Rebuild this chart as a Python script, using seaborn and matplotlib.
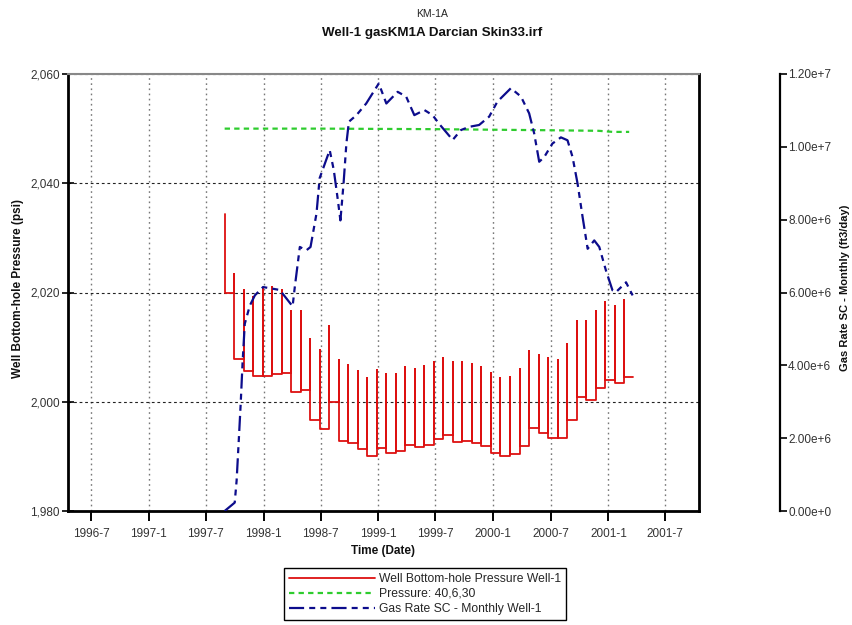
import numpy as np
import pandas as pd
import matplotlib
matplotlib.use("Agg")
import matplotlib.pyplot as plt
from matplotlib.ticker import FuncFormatter
import seaborn as sns

# ---------------- data ----------------
title_top = "KM-1A"
title_main = "Well-1 gasKM1A Darcian Skin33.irf"

tick_dates = ["1996-07-01", "1997-01-01", "1997-07-01", "1998-01-01", "1998-07-01",
              "1999-01-01", "1999-07-01", "2000-01-01", "2000-07-01", "2001-01-01",
              "2001-07-01"]
tick_labels = ["1996-7", "1997-1", "1997-7", "1998-1", "1998-7", "1999-1",
               "1999-7", "2000-1", "2000-7", "2001-1", "2001-7"]

# Well bottom-hole pressure (psi): monthly spike (high) and settled value (low)
bhp_first_date = "1997-08-30"
bhp_last_date = "2001-02-20"
bhp_end_date = "2001-03-20"
bhp_high = [2034.3, 2023.4, 2020.4, 2019.1, 2020.9, 2021.0, 2020.4, 2016.6, 2016.7, 2011.4,
            2009.5, 2013.8, 2007.7, 2006.7, 2005.6, 2004.3, 2005.9, 2005.1, 2005.1, 2006.3,
            2006.0, 2006.5, 2007.2, 2008.1, 2007.2, 2007.2, 2006.9, 2006.3, 2005.2, 2004.3,
            2004.6, 2006.0, 2009.2, 2008.6, 2008.0, 2007.7, 2010.6, 2014.7, 2014.7, 2016.6,
            2018.2, 2017.6, 2018.7]
bhp_low = [2019.9, 2007.8, 2005.7, 2004.8, 2004.8, 2005.0, 2005.3, 2001.7, 2002.2, 1996.6,
           1995.0, 1999.9, 1992.8, 1992.4, 1991.3, 1990.1, 1991.6, 1990.7, 1990.9, 1992.1,
           1991.8, 1992.1, 1993.2, 1993.9, 1992.7, 1992.8, 1992.5, 1991.9, 1990.7, 1990.0,
           1990.4, 1991.9, 1995.2, 1994.3, 1993.3, 1993.3, 1996.6, 2000.9, 2000.4, 2002.5,
           2004.0, 2003.4, 2004.5]

# Pressure: 40,6,30
ref_dates = ["1997-08-30", "1998-07-01", "1999-07-01", "2000-07-01", "2000-12-01",
             "2001-01-15", "2001-03-08"]
ref_pressure = [2050.0, 2050.0, 2049.9, 2049.7, 2049.6, 2049.4, 2049.4]

# Gas rate SC - monthly (million ft3/day)
gas_dates = ["1997-08-30", "1997-10-01", "1997-10-07", "1997-10-15", "1997-10-20",
             "1997-10-26", "1997-11-02", "1997-11-18", "1997-12-04", "1997-12-30",
             "1998-02-21", "1998-03-15", "1998-04-03", "1998-04-10", "1998-04-26",
             "1998-05-17", "1998-05-30", "1998-06-18", "1998-06-28", "1998-07-30",
             "1998-08-12", "1998-08-25", "1998-09-02", "1998-09-12", "1998-09-21",
             "1998-09-29", "1998-10-23", "1998-11-23", "1999-01-02", "1999-01-26",
             "1999-03-03", "1999-03-30", "1999-04-25", "1999-05-27", "1999-06-22",
             "1999-07-14", "1999-08-25", "1999-09-20", "1999-10-17", "1999-11-17",
             "1999-12-19", "2000-01-14", "2000-02-26", "2000-03-29", "2000-04-24",
             "2000-05-10", "2000-05-26", "2000-06-11", "2000-07-07", "2000-08-03",
             "2000-08-24", "2000-09-09", "2000-09-25", "2000-10-11", "2000-10-27",
             "2000-11-17", "2000-12-03", "2000-12-24", "2001-01-14", "2001-01-25",
             "2001-02-26", "2001-03-19"]
gas_rate_mm = [0.00, 0.23, 0.83, 2.12, 2.95, 4.08, 5.14, 5.64, 5.92, 6.15,
               6.07, 5.83, 5.62, 6.15, 7.25, 7.16, 7.25, 8.17, 9.14, 9.91,
               9.36, 8.53, 7.98, 8.99, 10.09, 10.69, 10.87, 11.19, 11.74, 11.19,
               11.51, 11.38, 10.87, 11.01, 10.87, 10.62, 10.19, 10.46, 10.55, 10.60,
               10.83, 11.24, 11.61, 11.38, 10.92, 10.37, 9.59, 9.72, 10.09, 10.26,
               10.18, 9.72, 8.99, 8.07, 7.20, 7.43, 7.25, 6.61, 6.06, 6.01,
               6.28, 5.92]

legend_labels = ["Well Bottom-hole Pressure Well-1", "Pressure: 40,6,30",
                 "Gas Rate SC - Monthly Well-1"]

# ---------------- figure ----------------
sns.set_theme(style="white")
plt.rcParams["font.family"] = ["Liberation Sans", "DejaVu Sans"]

W, H = 852, 625
fig = plt.figure(figsize=(W / 100, H / 100), dpi=100)
L, R, T, B = 68, 699, 74, 511
ax = fig.add_axes([L / W, 1 - B / H, (R - L) / W, (B - T) / H])
ax2 = ax.twinx()

# red step/spike path
spike_dates = list(pd.date_range(bhp_first_date, bhp_last_date, periods=len(bhp_high)))
spike_dates.append(pd.Timestamp(bhp_end_date))
px, py = [], []
prev = bhp_high[0]
for i, (h, l) in enumerate(zip(bhp_high, bhp_low)):
    t = spike_dates[i]
    px += [t, t, t, spike_dates[i + 1]]
    py += [prev, h, l, l]
    prev = l
red_df = pd.DataFrame({"date": px, "p": py})
sns.lineplot(data=red_df, x="date", y="p", sort=False, estimator=None, ax=ax,
             color="#dd1010", linewidth=1.3, label=legend_labels[0])

green_df = pd.DataFrame({"date": pd.to_datetime(ref_dates), "p": ref_pressure})
sns.lineplot(data=green_df, x="date", y="p", sort=False, estimator=None, ax=ax,
             color="#2ecc2e", linewidth=1.6, label=legend_labels[1])
ax.lines[-1].set_linestyle((0, (2.4, 1.9)))

gas_df = pd.DataFrame({"date": pd.to_datetime(gas_dates),
                       "q": np.array(gas_rate_mm) * 1e6})
sns.lineplot(data=gas_df, x="date", y="q", sort=False, estimator=None, ax=ax2,
             color="#0c0c8c", linewidth=1.6, label=legend_labels[2])
ax2.lines[-1].set_linestyle((0, (6.8, 2.3, 2.7, 2.3, 2.7, 2.3)))

for a in (ax, ax2):
    lg = a.get_legend()
    if lg is not None:
        lg.remove()

# axes limits / ticks
ax.set_xlim(pd.Timestamp("1996-04-19"), pd.Timestamp("2001-10-16"))
ax.set_ylim(1980, 2060)
ax.set_yticks([1980, 2000, 2020, 2040, 2060])
ax.yaxis.set_major_formatter(FuncFormatter(lambda v, p: f"{v:,.0f}"))
ax.set_xticks(pd.to_datetime(tick_dates))
ax.set_xticklabels(tick_labels)
ax2.set_ylim(0, 1.2e7)
ax2.set_yticks(np.arange(0, 1.2e7 + 1, 2e6))


def sci(v, p):
    m, e = f"{v:.2e}".split("e")
    ei = int(e)
    return f"{m}e{'+' if ei >= 0 else '-'}{abs(ei)}"


ax2.yaxis.set_major_formatter(FuncFormatter(sci))

ax.set_xlabel("")
ax.set_ylabel("")
ax2.set_ylabel("")

# grid
ax.xaxis.grid(True, color="#777777", linestyle=(0, (1.2, 2.5)), linewidth=1.0)
ax.yaxis.grid(True, color="#222222", linestyle=(0, (2.5, 2.5)), linewidth=0.8)
ax.set_axisbelow(True)

# spines
for s in ("left", "bottom", "right"):
    ax.spines[s].set_color("black")
    ax.spines[s].set_linewidth(2.0)
ax.spines["top"].set_color("#888888")
ax.spines["top"].set_linewidth(1.5)
for s in ("left", "top", "bottom"):
    ax2.spines[s].set_visible(False)
ax2.spines["right"].set_position(("axes", 1.128))
ax2.spines["right"].set_color("black")
ax2.spines["right"].set_linewidth(1.6)

ax.tick_params(axis="y", direction="inout", length=8, width=1.2, colors="black",
               labelsize=8.5, labelcolor="#333333", pad=2, left=True)
ax.tick_params(axis="x", direction="out", length=7, width=1.4, colors="black",
               labelsize=8.5, labelcolor="#333333", pad=5, bottom=True)
ax2.tick_params(axis="y", direction="out", length=5, width=1.2, colors="black",
                labelsize=8.5, labelcolor="#333333", pad=1, right=True)

# texts
fig.text(432 / W, 1 - 14 / H, title_top, ha="center", va="center", fontsize=7.5,
         color="#222222")
fig.text(432 / W, 1 - 33 / H, title_main, ha="center", va="center", fontsize=9.6,
         fontweight="bold", color="#111111")
fig.text(383 / W, 1 - 551 / H, "Time (Date)", ha="center", va="center", fontsize=8.5,
         fontweight="bold", color="#111111")
fig.text(18 / W, 1 - 288 / H, "Well Bottom-hole Pressure (psi)", ha="center",
         va="center", rotation=90, fontsize=8.5, fontweight="bold", color="#111111")
fig.text(845 / W, 1 - 288 / H, "Gas Rate SC - Monthly (ft3/day)", ha="center",
         va="center", rotation=90, fontsize=8, fontweight="bold", color="#111111")

handles = [ax.lines[0], ax.lines[1], ax2.lines[0]]
leg = fig.legend(handles, legend_labels, loc="upper left",
                 bbox_to_anchor=(284 / W, 1 - 568 / H), fontsize=8.7, frameon=True,
                 fancybox=False, edgecolor="black", framealpha=1, handlelength=7.1,
                 handletextpad=0.4, borderpad=0.4, labelspacing=0.25,
                 borderaxespad=0)
leg.get_frame().set_linewidth(1.0)

fig.savefig("out.png", dpi=100)
